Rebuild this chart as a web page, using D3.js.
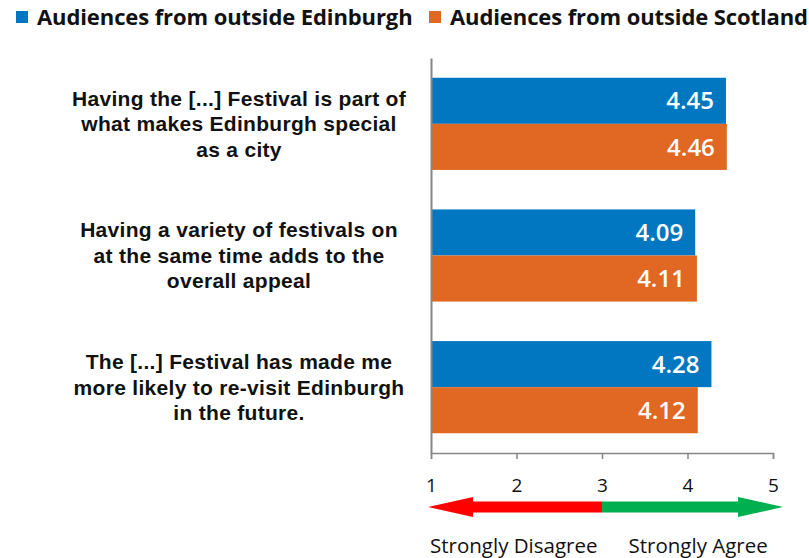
<!DOCTYPE html>
<html>
<head>
<meta charset="utf-8">
<script src="https://cdn.jsdelivr.net/npm/d3@7"></script>
<style>
  body { margin: 0; background: #fff; }
  svg { display: block; }
</style>
</head>
<body>
<div id="chart"><svg></svg></div>
<script>
// data
const statements = [
  ['Having the [...] Festival is part of', 'what makes Edinburgh special', 'as a city'],
  ['Having a variety of festivals on', 'at the same time adds to the', 'overall appeal'],
  ['The [...] Festival has made me', 'more likely to re-visit Edinburgh', 'in the future.']
];
const seriesNames = ['Audiences from outside Edinburgh', 'Audiences from outside Scotland'];
const edinburghValues = [4.45, 4.09, 4.28];
const scotlandValues = [4.46, 4.11, 4.12];
const tickValues = [1, 2, 3, 4, 5];
const scaleEnds = ['Strongly Disagree', 'Strongly Agree'];

const colors = ['#0077c0', '#e06823'];
const axisColor = '#868686';

const W = 809, H = 558;
const svg = d3.select('#chart').select('svg')
    .attr('width', W)
    .attr('height', H);

const x = d3.scaleLinear().domain([1, 5]).range([431, 773]);
const y = d3.scaleBand().domain(d3.range(statements.length))
    .range([58, 453]).paddingInner(0.3).paddingOuter(0.15);
const ySub = d3.scaleBand().domain([0, 1]).range([0, y.bandwidth()]);

const rows = statements.map((s, i) => ({i, vals: [edinburghValues[i], scotlandValues[i]]}));

// bars
const groups = svg.selectAll('g.group')
    .data(rows)
  .enter().append('g')
    .attr('class', 'group')
    .attr('transform', d => `translate(0,${y(d.i)})`);

groups.selectAll('rect')
    .data(d => d.vals.map((v, k) => ({v, k})))
  .enter().append('rect')
    .attr('x', x(1))
    .attr('y', d => ySub(d.k))
    .attr('width', d => x(d.v) - x(1))
    .attr('height', ySub.bandwidth())
    .attr('fill', d => colors[d.k]);

groups.selectAll('text.val')
    .data(d => d.vals.map((v, k) => ({v, k})))
  .enter().append('text')
    .attr('class', 'val')
    .attr('x', d => x(d.v) - 12)
    .attr('y', d => ySub(d.k) + ySub.bandwidth() / 2)
    .attr('dy', '0.36em')
    .attr('text-anchor', 'end')
    .attr('fill', '#fff')
    .style('font-family', '"Open Sans", sans-serif')
    .style('font-weight', 600)
    .style('font-size', '24px')
    .text(d => d.v.toFixed(2));

// category labels
const lineH = 25.5;
svg.selectAll('text.cat')
    .data(statements)
  .enter().append('text')
    .attr('class', 'cat')
    .attr('text-anchor', 'middle')
    .style('font-family', '"Liberation Sans", Arial, sans-serif')
    .style('font-weight', 'bold')
    .style('font-size', '21px')
    .style('letter-spacing', '0.3px')
    .attr('fill', '#111')
    .each(function(lines, i) {
      const t = d3.select(this);
      const cy = y(i) + y.bandwidth() / 2;
      lines.forEach((ln, j) => {
        t.append('tspan')
          .attr('x', 239)
          .attr('y', cy + (j - (lines.length - 1) / 2) * lineH)
          .attr('dy', '0.35em')
          .text(ln);
      });
    });

// axes
svg.append('g')
    .attr('transform', `translate(${x(1)},0)`)
    .call(d3.axisLeft(y).tickSize(0).tickFormat(''))
    .call(g => g.select('.domain').attr('stroke', axisColor).attr('stroke-width', 2));

const xAxis = svg.append('g')
    .attr('transform', `translate(0,${y.range()[1]})`)
    .call(d3.axisBottom(x).tickValues(tickValues).tickSize(6).tickPadding(20).tickFormat(d3.format('d')));
xAxis.select('.domain').attr('stroke', axisColor).attr('stroke-width', 1.5);
xAxis.selectAll('.tick line').attr('stroke', axisColor).attr('stroke-width', 1.5);
xAxis.selectAll('.tick text')
    .attr('fill', '#111')
    .style('font-family', '"Open Sans", sans-serif')
    .style('font-size', '19px');

// agree / disagree arrow
const ay = 507, shaft = 11, head = 20, headLen = 45;
const xl = x(1) - 3, xm = x(3), xr = x(5) + 10;
svg.append('path')
    .attr('fill', '#ff0000')
    .attr('d', `M${xl},${ay} L${xl + headLen},${ay - head / 2} L${xl + headLen},${ay - shaft / 2}
                L${xm},${ay - shaft / 2} L${xm},${ay + shaft / 2} L${xl + headLen},${ay + shaft / 2}
                L${xl + headLen},${ay + head / 2} Z`);
svg.append('path')
    .attr('fill', '#00b050')
    .attr('d', `M${xr},${ay} L${xr - headLen},${ay - head / 2} L${xr - headLen},${ay - shaft / 2}
                L${xm},${ay - shaft / 2} L${xm},${ay + shaft / 2} L${xr - headLen},${ay + shaft / 2}
                L${xr - headLen},${ay + head / 2} Z`);

svg.selectAll('text.end')
    .data(scaleEnds)
  .enter().append('text')
    .attr('class', 'end')
    .attr('x', (d, i) => i === 0 ? x(1) - 1 : x(4) - 59)
    .attr('y', 553)
    .attr('fill', '#111')
    .style('font-family', '"Open Sans", sans-serif')
    .style('font-size', '20.5px')
    .text(d => d);

// legend
const legend = svg.append('g').attr('class', 'legend');
const legX = [16, 429];
seriesNames.forEach((name, k) => {
  legend.append('rect')
      .attr('x', legX[k])
      .attr('y', 11)
      .attr('width', 12)
      .attr('height', 12)
      .attr('fill', colors[k]);
  legend.append('text')
      .attr('x', legX[k] + 21)
      .attr('y', 25)
      .attr('fill', '#111')
      .style('font-family', '"Open Sans", sans-serif')
      .style('font-weight', 'bold')
      .style('font-size', '22px')
      .style('letter-spacing', '-0.1px')
      .text(name);
});
</script>
</body>
</html>
